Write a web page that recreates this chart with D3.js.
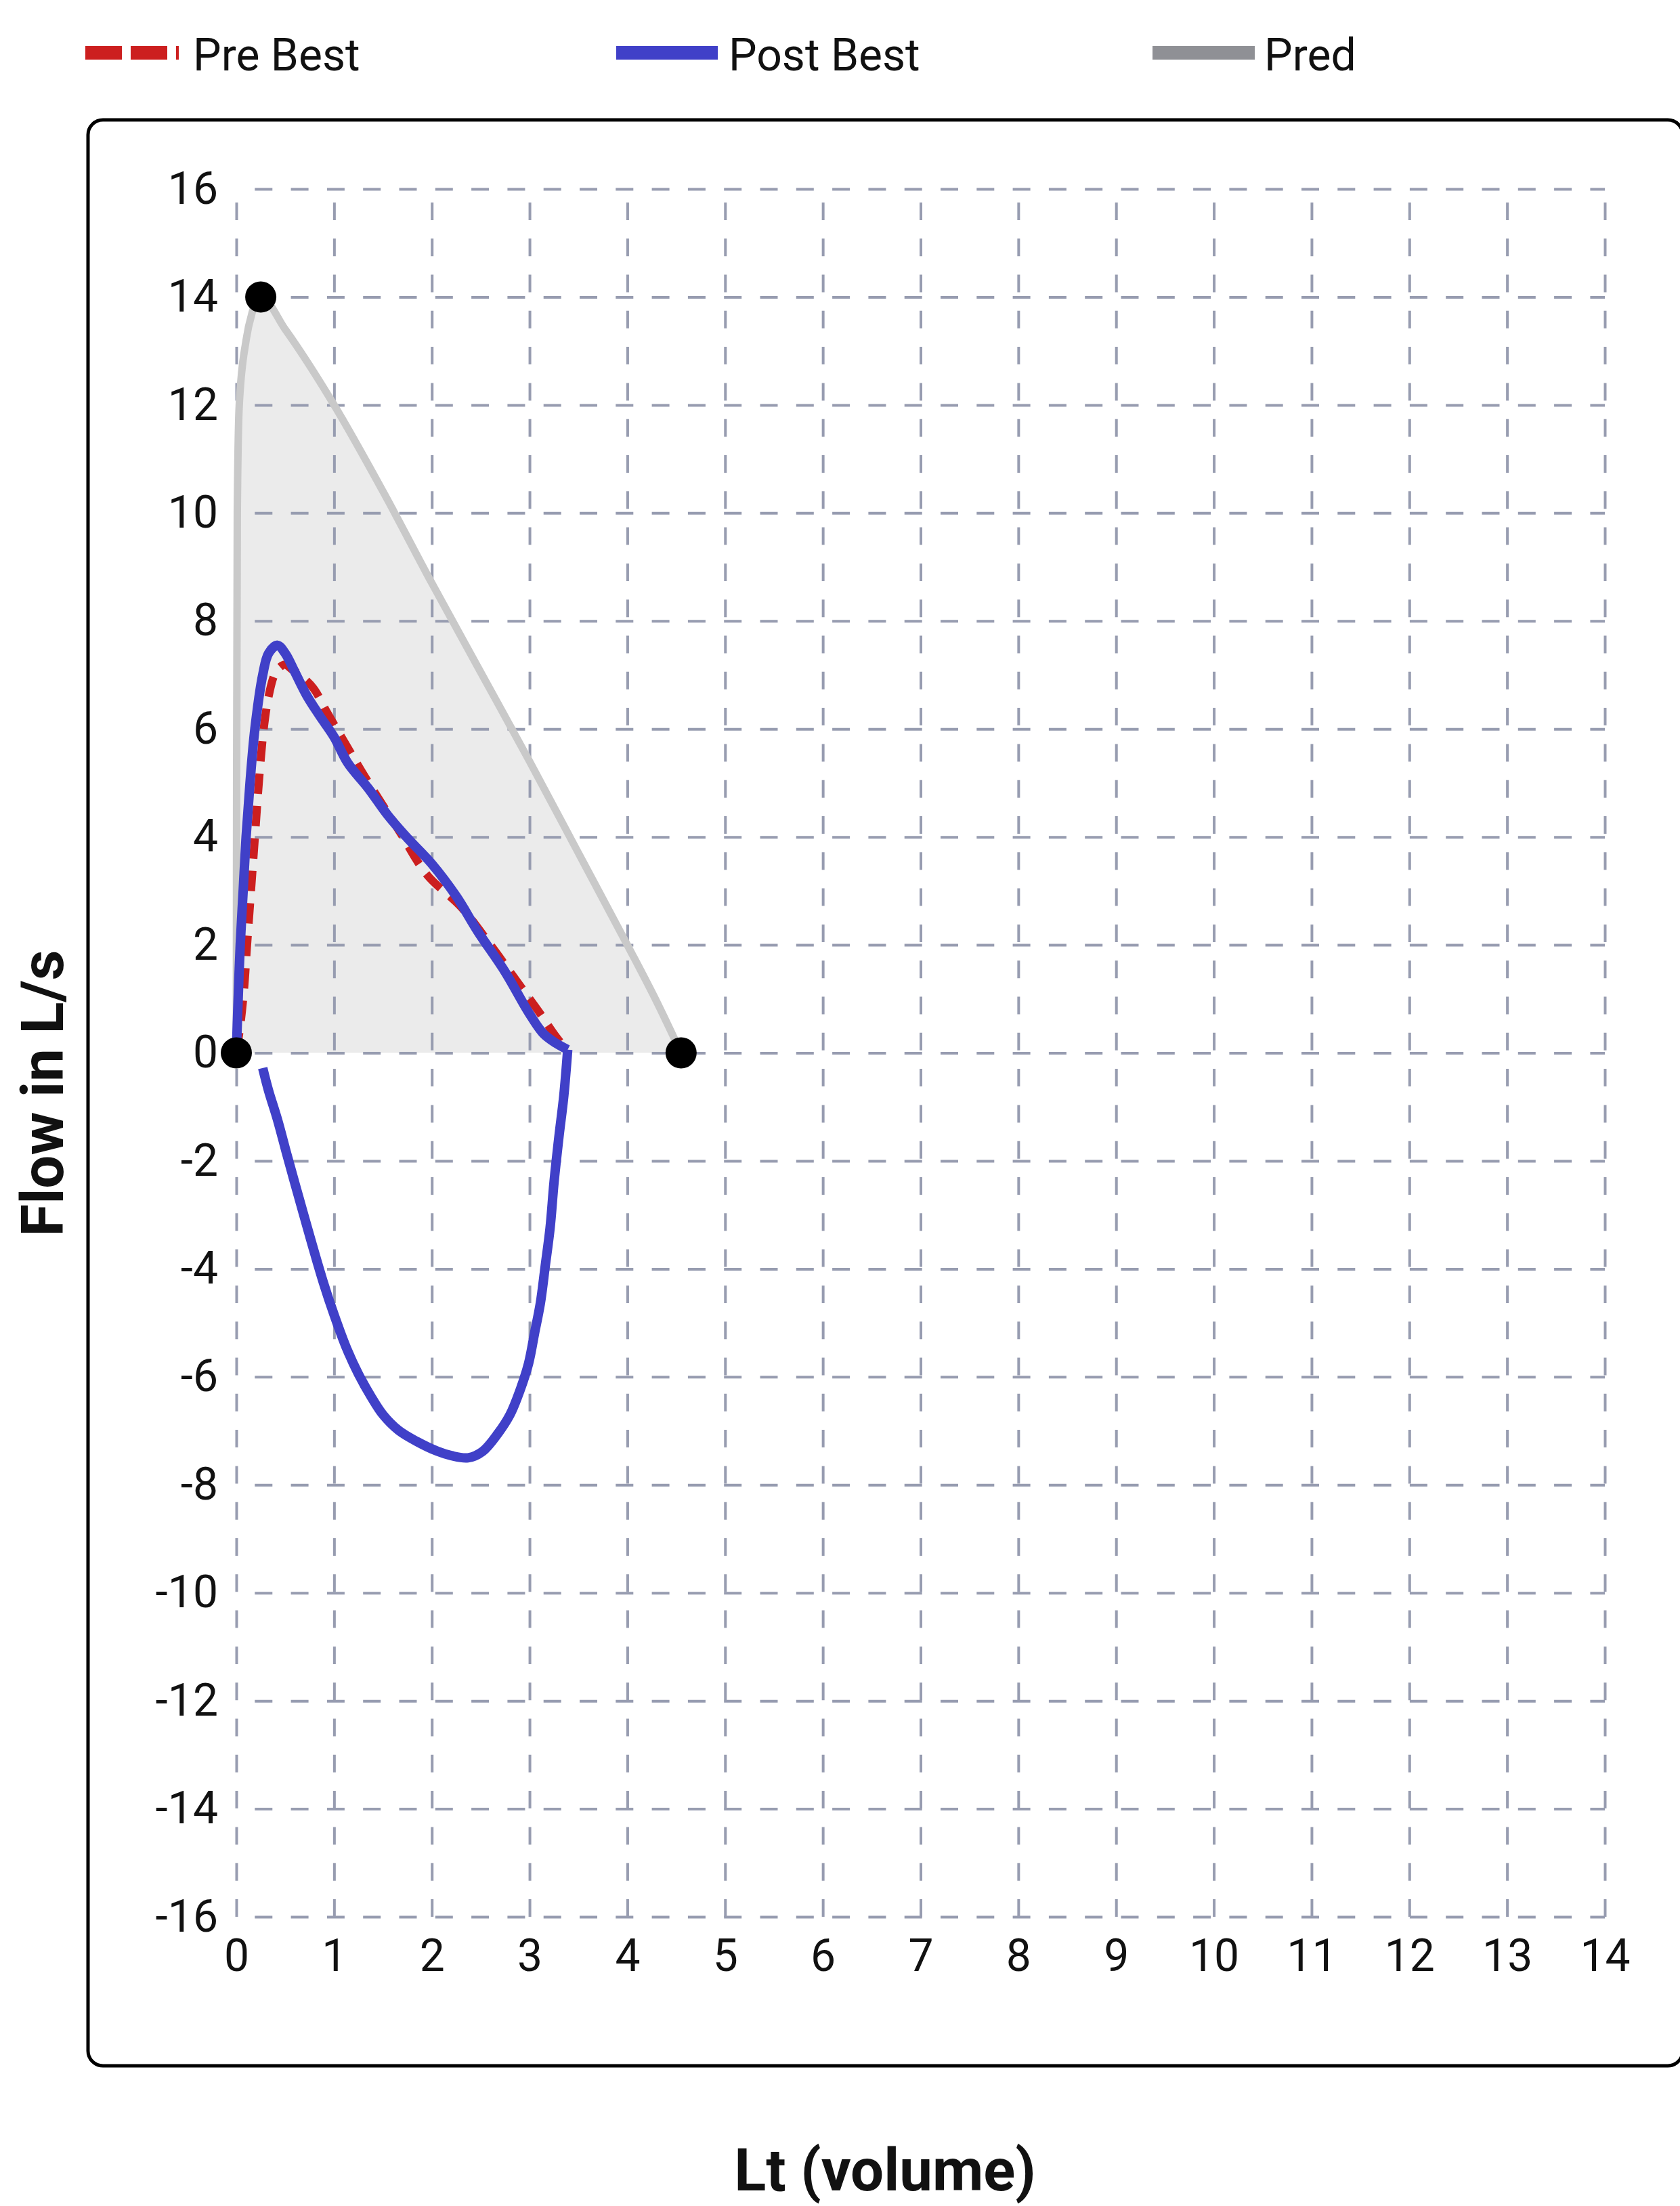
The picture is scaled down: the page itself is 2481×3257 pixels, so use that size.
<!DOCTYPE html>
<html>
<head>
<meta charset="utf-8">
<script src="https://cdn.jsdelivr.net/npm/d3@7"></script>
<style>
  body { margin: 0; background: #fff; }
  text { font-family: Roboto, "Noto Sans", sans-serif; }
</style>
</head>
<body>
<div id="chart"></div>
<script>
// tick labels
const xTicks = [0, 1, 2, 3, 4, 5, 6, 7, 8, 9, 10, 11, 12, 13, 14];
const yTicks = [16, 14, 12, 10, 8, 6, 4, 2, 0, -2, -4, -6, -8, -10, -12, -14, -16];

// predicted curve (volume L, flow L/s)
const predVol  = [0, 0.003, 0.01, 0.03, 0.1, 0.16, 0.25, 0.5, 1, 1.5, 2, 2.5, 3, 3.5, 4, 4.3, 4.55];
const predFlow = [0, 5, 10, 12, 13.2, 13.7, 14, 13.4, 12, 10.4, 8.7, 7.05, 5.4, 3.7, 2.0, 0.95, 0];

// markers on the predicted curve
const markerVol  = [0, 0.25, 4.55];
const markerFlow = [0, 14, 0];

// pre best (expiratory part)
const preVol  = [0, 0.04, 0.08, 0.11, 0.15, 0.19, 0.23, 0.28, 0.33, 0.39, 0.45, 0.5, 0.57, 0.65, 0.79, 0.93,
                 1.14, 1.32, 1.67, 1.95, 2.3, 2.6, 2.9, 3.1, 3.25, 3.38];
const preFlow = [0, 0.5, 1.2, 2, 3, 4, 5, 6, 6.6, 7, 7.15, 7.19, 7.1, 7.0, 6.75, 6.3,
                 5.65, 5.1, 4.1, 3.3, 2.7, 2.0, 1.25, 0.75, 0.35, 0.05];

// post best (expiratory loop up to 3.39 L, then inspiratory loop back)
const postVol  = [0, 0.015, 0.04, 0.07, 0.10, 0.14, 0.19, 0.27, 0.33, 0.42, 0.5, 0.6, 0.72, 0.85, 1.0,
                  1.14, 1.35, 1.55, 1.75, 2.0, 2.25, 2.47, 2.75, 2.99, 3.14, 3.27, 3.39,
                  3.35, 3.30, 3.25, 3.21, 3.16, 3.11, 3.05, 2.99, 2.90, 2.80, 2.68, 2.52, 2.37, 2.2,
                  2.06, 1.85, 1.66, 1.5, 1.38, 1.25, 1.13, 1.0, 0.89, 0.76, 0.64, 0.52, 0.42, 0.33, 0.27];
const postFlow = [0, 0.8, 2, 3, 4, 5, 6, 7, 7.4, 7.55, 7.4, 7.05, 6.62, 6.25, 5.85,
                  5.37, 4.9, 4.4, 3.98, 3.5, 2.9, 2.25, 1.5, 0.75, 0.36, 0.18, 0.06,
                  -0.8, -1.56, -2.4, -3.24, -3.95, -4.64, -5.2, -5.75, -6.26, -6.7, -7.04, -7.38, -7.5, -7.46,
                  -7.38, -7.2, -6.99, -6.7, -6.37, -5.95, -5.48, -4.85, -4.25, -3.45, -2.68, -1.9, -1.23, -0.7, -0.28];

const legendNames = ['Pre Best', 'Post Best', 'Pred'];

const zip = (a, b) => a.map((v, i) => [v, b[i]]);
const pred = zip(predVol, predFlow);
const pre = zip(preVol, preFlow);
const post = zip(postVol, postFlow);
const markers = zip(markerVol, markerFlow);

// split the post loop at its largest volume so the turn stays sharp
const turn = postVol.indexOf(d3.max(postVol));
const postParts = [post.slice(0, turn + 1), post.slice(turn)];

const svgWidth = 2481, svgHeight = 3257;
const margin = { top: 279, left: 349 };
const width = 2021, height = 2551;

const svgRoot = d3.select('#chart')
  .append('svg')
  .attr('width', svgWidth)
  .attr('height', svgHeight);

// frame
svgRoot.append('rect')
  .attr('x', 130).attr('y', 177)
  .attr('width', 2355).attr('height', 2873)
  .attr('rx', 22)
  .attr('fill', 'none')
  .attr('stroke', '#000')
  .attr('stroke-width', 5);

const svg = svgRoot.append('g')
  .attr('transform', `translate(${margin.left},${margin.top})`);

const x = d3.scaleLinear().domain([0, 14]).range([0, width]);
const y = d3.scaleLinear().domain([-16, 16]).range([height, 0]);

// predicted area fill
svg.append('path')
  .datum(pred)
  .attr('fill', '#ebebeb')
  .attr('d', d3.area().x(d => x(d[0])).y0(y(0)).y1(d => y(d[1])).curve(d3.curveMonotoneX));

// grid
const gridColor = '#979cb0';
svg.append('g')
  .call(d3.axisLeft(y).tickValues(yTicks).tickSize(-width).tickFormat(''))
  .call(g => g.select('.domain').remove())
  .selectAll('line')
  .attr('stroke', gridColor)
  .attr('stroke-width', 4)
  .attr('stroke-dasharray', '26 27.3')
  .attr('stroke-dashoffset', 26);

svg.append('g')
  .attr('transform', `translate(0,${height})`)
  .call(d3.axisBottom(x).tickValues(xTicks).tickSize(-height).tickFormat(''))
  .call(g => g.select('.domain').remove())
  .selectAll('line')
  .attr('stroke', gridColor)
  .attr('stroke-width', 4)
  .attr('stroke-dasharray', '26 27.3');

// tick labels (plain hyphen for negatives)
svg.append('g')
  .call(d3.axisLeft(y).tickValues(yTicks).tickSize(0).tickPadding(27).tickFormat(d => String(d)))
  .call(g => g.select('.domain').remove())
  .selectAll('text')
  .style('font-family', 'Roboto, sans-serif')
  .style('font-size', '66px')
  .attr('fill', '#111');

svg.append('g')
  .attr('transform', `translate(0,${height})`)
  .call(d3.axisBottom(x).tickValues(xTicks).tickSize(0).tickPadding(33).tickFormat(d => String(d)))
  .call(g => g.select('.domain').remove())
  .selectAll('text')
  .style('font-family', 'Roboto, sans-serif')
  .style('font-size', '66px')
  .attr('fill', '#111');

// curves
const line = d3.line().x(d => x(d[0])).y(d => y(d[1]));

svg.append('path')
  .attr('fill', 'none')
  .attr('stroke', '#c9c9c9')
  .attr('stroke-width', 11)
  .attr('d', line.curve(d3.curveMonotoneX)(pred));

svg.append('path')
  .attr('fill', 'none')
  .attr('stroke', '#cc1f1f')
  .attr('stroke-width', 12)
  .attr('stroke-dasharray', '30 18')
  .attr('d', line.curve(d3.curveCatmullRom.alpha(0.5))(pre));

svg.selectAll('.post')
  .data(postParts)
  .enter().append('path')
  .attr('class', 'post')
  .attr('fill', 'none')
  .attr('stroke', '#4040c8')
  .attr('stroke-width', 14)
  .attr('stroke-linejoin', 'round')
  .attr('d', d => line.curve(d3.curveCatmullRom.alpha(0.5))(d));

svg.selectAll('.marker')
  .data(markers)
  .enter().append('circle')
  .attr('class', 'marker')
  .attr('cx', d => x(d[0]))
  .attr('cy', d => y(d[1]))
  .attr('r', 23)
  .attr('fill', '#000');

// axis titles
svgRoot.append('text')
  .attr('transform', 'translate(93,1614) rotate(-90)')
  .attr('text-anchor', 'middle')
  .style('font-size', '87px')
  .style('font-weight', 'bold')
  .attr('fill', '#111')
  .text('Flow in L/s');

svgRoot.append('text')
  .attr('x', 1307)
  .attr('y', 3234)
  .attr('text-anchor', 'middle')
  .style('font-size', '87px')
  .style('font-weight', 'bold')
  .attr('fill', '#111')
  .text('Lt (volume)');

// legend
const legendItems = [
  { x1: 126, x2: 264, tx: 285, color: '#cc1f1f', dash: '54 13' },
  { x1: 910, x2: 1060, tx: 1076, color: '#4040c8', dash: null },
  { x1: 1702, x2: 1853, tx: 1867, color: '#8f9095', dash: null }
];
const legend = svgRoot.append('g');
legendItems.forEach((d, i) => {
  legend.append('line')
    .attr('x1', d.x1).attr('x2', d.x2)
    .attr('y1', 78).attr('y2', 78)
    .attr('stroke', d.color)
    .attr('stroke-width', 20)
    .attr('stroke-dasharray', d.dash);
  legend.append('text')
    .attr('x', d.tx).attr('y', 104)
    .style('font-size', '66px')
    .attr('fill', '#111')
    .text(legendNames[i]);
});
</script>
</body>
</html>
